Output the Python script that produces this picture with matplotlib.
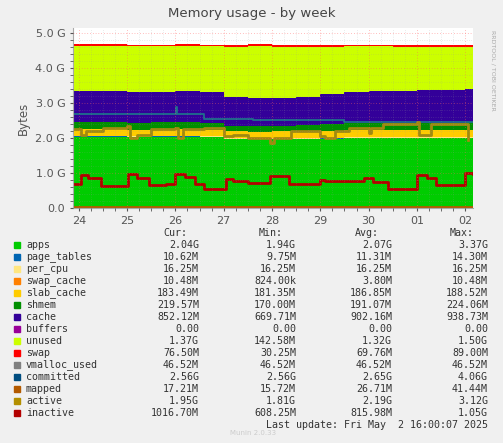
import matplotlib
matplotlib.use("Agg")
import matplotlib.pyplot as plt
import numpy as np

# day offsets (0 = Apr 24), stacked series in GB sampled every half day
t_stack = [-0.12, 0.5, 1.0, 1.5, 2.0, 2.5, 3.0, 3.5, 4.0, 4.5, 5.0, 5.5, 6.0, 6.5, 7.0, 7.5, 8.0, 8.16]
apps = [2.04, 2.04, 2.03, 2.04, 2.04, 2.03, 1.97, 1.96, 1.97, 1.97, 1.98, 2.0, 2.0, 2.0, 2.0, 2.0, 2.0, 1.95]
page_tables = [0.011] * 18
per_cpu = [0.016] * 18
swap_cache = [0.004, 0.004, 0.004, 0.004, 0.004, 0.004, 0.003, 0.003, 0.003, 0.003, 0.003, 0.004, 0.004, 0.004, 0.004, 0.004, 0.01, 0.01]
slab_cache = [0.18, 0.18, 0.18, 0.18, 0.18, 0.18, 0.19, 0.19, 0.19, 0.19, 0.19, 0.19, 0.19, 0.19, 0.19, 0.19, 0.19, 0.18]
shmem = [0.2, 0.2, 0.2, 0.2, 0.21, 0.2, 0.17, 0.17, 0.17, 0.18, 0.2, 0.21, 0.22, 0.22, 0.22, 0.22, 0.22, 0.22]
cache = [0.9, 0.9, 0.88, 0.88, 0.9, 0.88, 0.82, 0.8, 0.78, 0.8, 0.86, 0.88, 0.9, 0.92, 0.94, 0.94, 0.95, 0.85]
buffers = [0.0] * 18
unused = [1.28, 1.28, 1.3, 1.29, 1.27, 1.3, 1.44, 1.48, 1.48, 1.45, 1.36, 1.31, 1.28, 1.25, 1.23, 1.23, 1.22, 1.38]
swap = [0.05] * 18

# line series as step breakpoints (day offset, GB)
inact_t = [-0.12, 0.05, 0.2, 0.45, 1.02, 1.2, 1.45, 1.8, 2.0, 2.2, 2.4, 2.6, 3.05, 3.2, 3.5, 3.95, 4.35, 5.0, 5.1, 5.8, 5.9, 6.1, 6.4, 7.0, 7.2, 7.4, 8.0, 8.16]
inact_v = [0.69, 0.95, 0.85, 0.62, 0.97, 0.87, 0.66, 0.69, 0.97, 0.88, 0.69, 0.54, 0.83, 0.78, 0.71, 0.92, 0.69, 0.81, 0.78, 0.76, 0.86, 0.73, 0.54, 0.95, 0.86, 0.66, 1.0, 0.98]
active_t = [-0.12, 0.05, 0.15, 0.5, 1.0, 1.05, 1.2, 1.5, 2.0, 2.05, 2.15, 2.6, 3.0, 3.2, 3.5, 3.95, 4.05, 4.4, 5.0, 5.1, 5.3, 5.6, 6.0, 6.05, 6.3, 7.0, 7.05, 7.3, 8.0, 8.05]
active_v = [2.25, 2.1, 2.2, 2.28, 2.35, 2.0, 2.1, 2.25, 2.3, 2.0, 2.25, 2.3, 2.05, 2.1, 2.0, 1.85, 2.0, 2.2, 2.05, 2.0, 2.2, 2.3, 2.15, 2.3, 2.4, 2.45, 2.1, 2.4, 2.4, 1.95]
commit_t = [-0.12, 2.0, 2.01, 2.03, 2.6, 3.6, 5.5, 8.16]
commit_v = [2.7, 2.7, 2.9, 2.7, 2.55, 2.52, 2.45, 2.45]
mapped_v = 0.02

names = ["apps", "page_tables", "per_cpu", "swap_cache", "slab_cache", "shmem", "cache",
         "buffers", "unused", "swap", "vmalloc_used", "committed", "mapped", "active", "inactive"]
colors = ["#00CC00", "#0066B3", "#FFE680", "#FF8000", "#FFCC00", "#008F00", "#330099",
          "#990099", "#CCFF00", "#FF0000", "#808080", "#004D80", "#B35A00", "#B38F00", "#B30000"]
cur = ["2.04G", "10.62M", "16.25M", "10.48M", "183.49M", "219.57M", "852.12M", "0.00", "1.37G", "76.50M", "46.52M", "2.56G", "17.21M", "1.95G", "1016.70M"]
mins = ["1.94G", "9.75M", "16.25M", "824.00k", "181.35M", "170.00M", "669.71M", "0.00", "142.58M", "30.25M", "46.52M", "2.56G", "15.72M", "1.81G", "608.25M"]
avgs = ["2.07G", "11.31M", "16.25M", "3.80M", "186.85M", "191.07M", "902.16M", "0.00", "1.32G", "69.76M", "46.52M", "2.65G", "26.71M", "2.19G", "815.98M"]
maxs = ["3.37G", "14.30M", "16.25M", "10.48M", "188.52M", "224.06M", "938.73M", "0.00", "1.50G", "89.00M", "46.52M", "4.06G", "41.44M", "3.12G", "1.05G"]
day_labels = ["24", "25", "26", "27", "28", "29", "30", "01", "02"]

W, H = 503, 443
fig = plt.figure(figsize=(W / 100, H / 100), dpi=100, facecolor="#F0F0F0")
ax = fig.add_axes([73 / W, 1 - 208 / H, 400 / W, 180 / H])
ax.set_facecolor("white")

stack = [apps, page_tables, per_cpu, swap_cache, slab_cache, shmem, cache, buffers, unused, swap]
ax.stackplot(t_stack, *stack, colors=colors[:10], step="post")
ax.step(commit_t, commit_v, where="post", color="#1f6f8b", lw=1.3)
ax.step(inact_t, inact_v, where="post", color=colors[14], lw=2)
ax.step(active_t, active_v, where="post", color="#A08A10", lw=2)
ax.axhline(mapped_v, color=colors[12], lw=2)

ax.set_xlim(-0.12, 8.16)
ax.set_ylim(0, 5.15)
ax.set_xticks(range(9))
ax.set_xticklabels(day_labels)
ax.set_xticks(np.arange(-0.0, 8.2, 0.25), minor=True)
ax.set_yticks(range(6))
ax.set_yticklabels(["0.0"] + ["%.1f G" % v for v in range(1, 6)])
ax.set_yticks(np.arange(0, 5.1, 0.2), minor=True)
ax.grid(which="minor", color="#999999", ls=(0, (1, 3)), lw=0.4, alpha=0.6)
ax.grid(which="major", color="#ff6060", ls=(0, (1, 3)), lw=0.5, alpha=0.8)
ax.set_axisbelow(False)
ax.tick_params(colors="#555555", labelsize=8, length=2, which="both")
for s in ["top", "right"]:
    ax.spines[s].set_visible(False)
for s in ["left", "bottom"]:
    ax.spines[s].set_color("#aaaaaa")
ax.set_ylabel("Bytes", fontsize=8.5, color="#555555")

fig.text(0.5, 1 - 14 / H, "Memory usage - by week", ha="center", va="center", fontsize=9.5, color="#444444")
fig.text(493 / W, 1 - 70 / H, "RRDTOOL / TOBI OETIKER", rotation=270, ha="center", va="center", fontsize=4.5, color="#aaaaaa")

mono = "DejaVu Sans Mono"
fs = 7.2
row0 = 245
for lab, x in [("Cur:", 187), ("Min:", 283), ("Avg:", 379), ("Max:", 474)]:
    fig.text(x / W, 1 - 233 / H, lab, ha="right", va="center", family=mono, fontsize=fs, color="#333333")
for i, n in enumerate(names):
    y = 1 - (row0 + 12 * i) / H
    fig.patches.append(plt.Rectangle((14 / W, y - 3 / H), 6 / W, 6 / H, transform=fig.transFigure, color=colors[i]))
    fig.text(26 / W, y, n, va="center", family=mono, fontsize=fs, color="#333333")
    for vals, x in [(cur, 199), (mins, 296), (avgs, 392), (maxs, 488)]:
        fig.text(x / W, y, vals[i], ha="right", va="center", family=mono, fontsize=fs, color="#333333")
fig.text(488 / W, 1 - 425 / H, "Last update: Fri May  2 16:00:07 2025", ha="right", va="center", family=mono, fontsize=fs, color="#333333")
fig.text(253 / W, 1 - 433 / H, "Munin 2.0.33", ha="center", va="center", fontsize=5, color="#cccccc")

fig.savefig("out.png", dpi=100, facecolor=fig.get_facecolor())
